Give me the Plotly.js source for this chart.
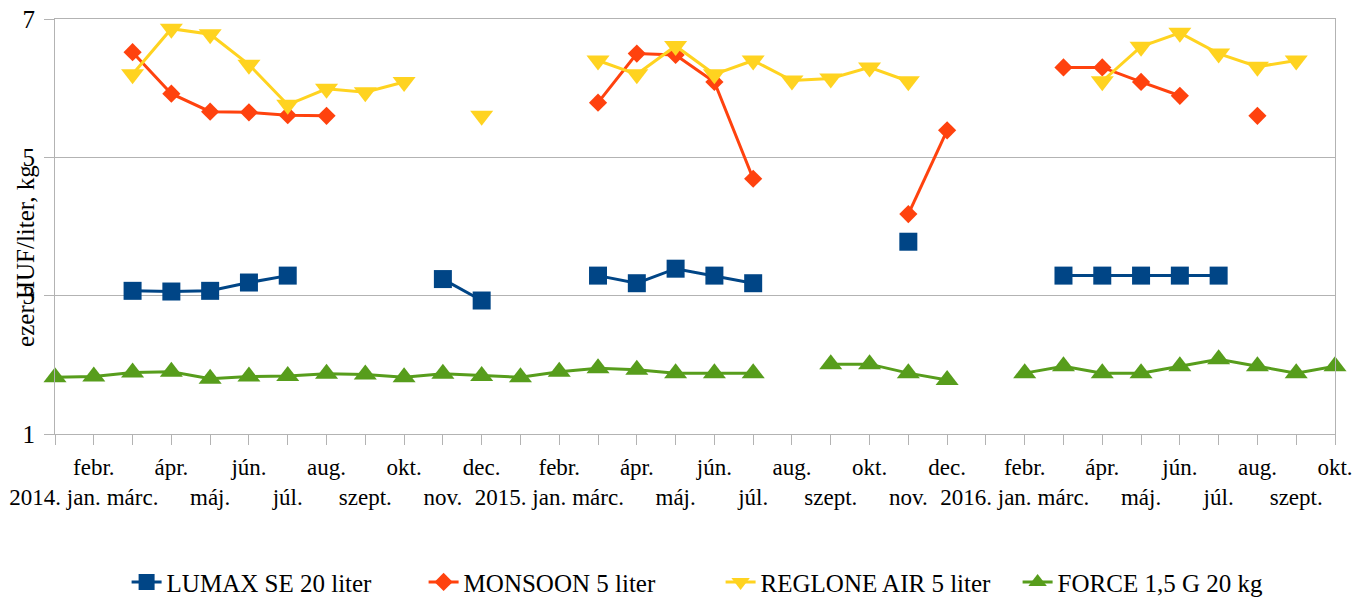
<!DOCTYPE html>
<html>
<head>
<meta charset="utf-8">
<script src="https://cdn.plot.ly/plotly-3.0.1.min.js"></script>
<style>
html,body{margin:0;padding:0;background:#fff;}
#chart{width:1369px;height:601px;}
</style>
</head>
<body>
<div id="chart"></div>
<script>
const categories = [
  "2014. jan.","2014. febr.","2014. márc.","2014. ápr.","2014. máj.","2014. jún.","2014. júl.","2014. aug.","2014. szept.","2014. okt.","2014. nov.","2014. dec.",
  "2015. jan.","2015. febr.","2015. márc.","2015. ápr.","2015. máj.","2015. jún.","2015. júl.","2015. aug.","2015. szept.","2015. okt.","2015. nov.","2015. dec.",
  "2016. jan.","2016. febr.","2016. márc.","2016. ápr.","2016. máj.","2016. jún.","2016. júl.","2016. aug.","2016. szept.","2016. okt."
];
const tickLabels = [
  "2014. jan.","febr.","márc.","ápr.","máj.","jún.","júl.","aug.","szept.","okt.","nov.","dec.",
  "2015. jan.","febr.","márc.","ápr.","máj.","jún.","júl.","aug.","szept.","okt.","nov.","dec.",
  "2016. jan.","febr.","márc.","ápr.","máj.","jún.","júl.","aug.","szept.","okt."
];
const seriesNames = ["LUMAX SE 20 liter","MONSOON 5 liter","REGLONE AIR 5 liter","FORCE 1,5 G 20 kg"];

const lumax = [null,null,3.07,3.06,3.07,3.19,3.29,null,null,null,3.24,2.93,
  null,null,3.29,3.18,3.39,3.29,3.18,null,null,null,3.78,null,
  null,null,3.29,3.29,3.29,3.29,3.29,null,null,null];
const monsoon = [null,null,6.52,5.92,5.66,5.65,5.61,5.60,null,null,null,null,
  null,null,5.79,6.50,6.48,6.09,4.69,null,null,null,4.18,5.39,
  null,null,6.30,6.30,6.09,5.89,null,5.60,null,null];
const reglone = [null,null,6.20,6.86,6.78,6.34,5.76,5.99,5.94,6.09,null,5.60,
  null,null,6.40,6.20,6.61,6.20,6.40,6.11,6.14,6.30,6.10,null,
  null,null,null,6.10,6.60,6.80,6.50,6.31,6.40,null];
const force = [1.82,1.83,1.89,1.90,1.80,1.83,1.84,1.87,1.86,1.82,1.87,1.84,
  1.82,1.90,1.95,1.93,1.88,1.88,1.88,null,2.01,2.01,1.88,1.78,
  null,1.88,1.98,1.88,1.88,1.98,2.08,1.98,1.88,1.98];

const FONT = "Liberation Serif";
const colors = ["#004586","#ff420e","#ffd320","#579d1c"];
const symbols = ["square","diamond","triangle-down","triangle-up"];
const sizes = [18,14,20,20];
const values = [lumax, monsoon, reglone, force];

const traces = values.map((v,k)=>({
  type:"scatter", mode:"lines+markers",
  x:categories, y:v, name:seriesNames[k],
  connectgaps:false, cliponaxis:false,
  line:{color:colors[k], width:3},
  marker:{color:colors[k], symbol:symbols[k], size:sizes[k], line:{width:0}},
  hoverinfo:"x+y"
}));

const tickText = tickLabels.map((t,i)=> i%2===0 ? "<br>"+t : t);

const layout = {
  width:1369, height:601,
  paper_bgcolor:"#ffffff", plot_bgcolor:"#ffffff",
  margin:{l:55, r:34, t:19, b:167, pad:0, autoexpand:false},
  font:{family:FONT, color:"#000000"},
  showlegend:true,
  legend:{orientation:"h", x:0.52, xanchor:"center", y:-0.357, yanchor:"middle",
    font:{family:FONT, size:25, color:"#000"}, entrywidth:252, entrywidthmode:"pixels",
    traceorder:"normal"},
  xaxis:{type:"category", categoryorder:"array", categoryarray:categories,
    range:[0, categories.length-1], autorange:false,
    tickmode:"array", tickvals:categories, ticktext:tickText, tickangle:0,
    ticks:"outside", ticklen:10, tickcolor:"#b3b3b3", tickwidth:1,
    showline:true, linecolor:"#b3b3b3", linewidth:1, mirror:true,
    showgrid:false, zeroline:false, automargin:false,
    ticklabelstandoff:2,
    tickfont:{family:FONT, size:23, color:"#000"}},
  yaxis:{range:[1,7], autorange:false, tickmode:"array", tickvals:[1,3,5,7], ticktext:["1","3","5","7"],
    ticks:"outside", ticklen:10, tickcolor:"#b3b3b3", tickwidth:1,
    showline:true, linecolor:"#b3b3b3", linewidth:1, mirror:true,
    showgrid:true, gridcolor:"#b3b3b3", gridwidth:1, zeroline:false, automargin:false,
    ticklabelstandoff:4,
    tickfont:{family:FONT, size:25, color:"#000"}},
  annotations:[{
    text:"ezer HUF/liter, kg", xref:"paper", yref:"paper",
    x:-0.0227, y:0.429, xanchor:"center", yanchor:"middle", textangle:-90,
    showarrow:false, font:{family:FONT, size:25, color:"#000"}
  }]
};

Plotly.newPlot("chart", traces, layout, {displayModeBar:false, staticPlot:true});
</script>
</body>
</html>
